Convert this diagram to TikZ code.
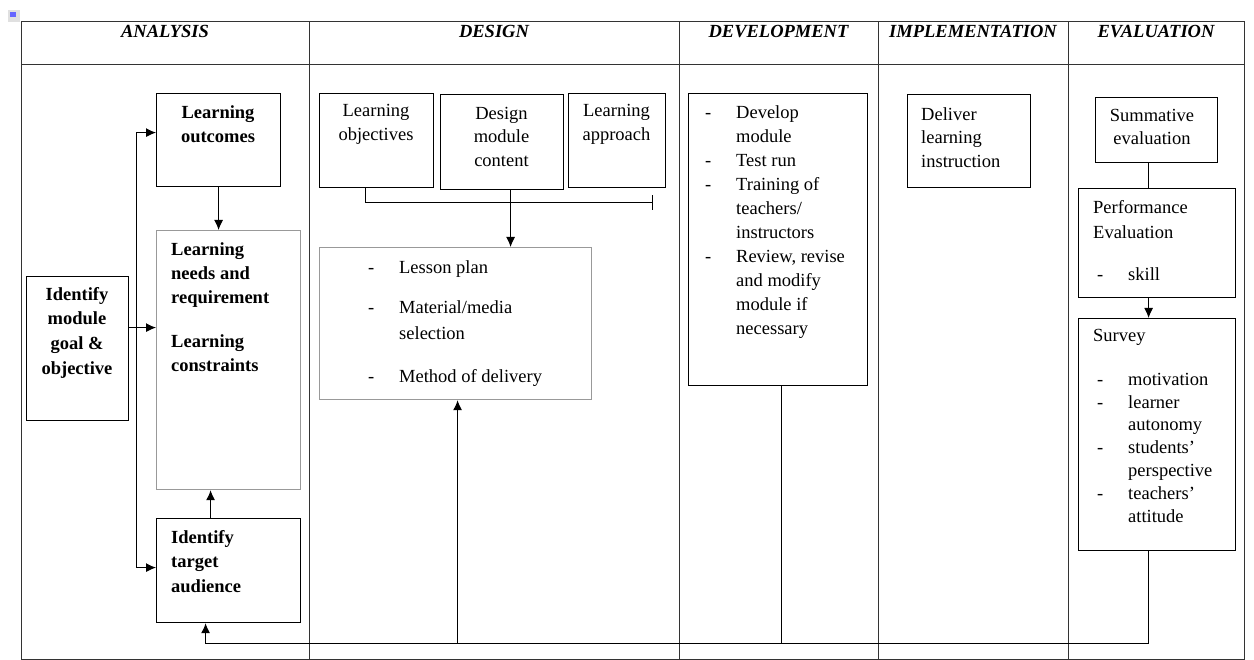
\documentclass[tikz,border=0pt]{standalone}
\usepackage{fontspec}
\setmainfont{Liberation Serif}
\usepackage{tikz}
\usetikzlibrary{arrows.meta}
\tikzset{>={Latex[length=10pt,width=9pt]}}
\tikzset{
  bx/.style={draw=black, line width=1.2pt, anchor=north west, inner sep=0pt},
  gbx/.style={draw=black!40, line width=1.2pt, anchor=north west, inner sep=0pt},
  txt/.style={inner sep=0pt, align=left, anchor=north west, font=\fontsize{18.5}{24}\selectfont, execute at begin node=\rule{0pt}{13pt}},
  ctxt/.style={txt, align=center, anchor=north},
  hd/.style={inner sep=0pt, anchor=base, font=\fontsize{18.5}{24}\selectfont\bfseries\itshape},
  ln/.style={line width=1pt}
}
\newcommand{\dashitem}[2][0pt]{\hspace*{#1}\makebox[31pt][l]{-}#2}
\newcommand{\dashcont}[2][0pt]{\hspace*{#1}\hspace*{31pt}#2}

\begin{document}
\begin{tikzpicture}[x=1pt, y=-1pt]
  \useasboundingbox (0,0) rectangle (1254,660);

  % icon
  \fill[black!12] (8,10) rectangle (20,22);
  \fill[blue!60] (10,12) rectangle (16,17);

  % table
  \draw[black!80, line width=1pt] (21,22) rectangle (1244,659);
  \draw[black!80, line width=1pt] (21,65) -- (1244,65);
  \foreach \x in {309, 679, 878, 1068}{
    \draw[black!80, line width=1pt] (\x,22) -- (\x,659);
  }

  \foreach \cx/\nm/\t in {165/hana/ANALYSIS, 494/hdes/DESIGN, 778.5/hdev/DEVELOPMENT, 973/himp/IMPLEMENTATION, 1156/heva/EVALUATION}{
    \node[hd] (\nm) at (\cx,37.5) {\t};
  }

  % Analysis
  \node[bx, minimum width=124, minimum height=93] (outc) at (156,93) {};
  \node[ctxt, font=\fontsize{18.5}{24}\selectfont\bfseries] (outct) at (218,105) {Learning\\outcomes};

  \node[gbx, minimum width=144, minimum height=259] (needs) at (156,230) {};
  \node[txt, font=\fontsize{18.5}{24}\selectfont\bfseries] (needst) at (171,242) {Learning\\needs and\\requirement\\[20pt]Learning\\constraints};

  \node[bx, minimum width=102, minimum height=144] (goal) at (26,276) {};
  \node[ctxt, font=\fontsize{18.5}{24.7}\selectfont\bfseries] (goalt) at (77,287) {Identify\\module\\goal \&\\objective};

  \node[bx, minimum width=144, minimum height=104] (aud) at (156,518) {};
  \node[txt, font=\fontsize{18.5}{24.5}\selectfont\bfseries] (audt) at (171,530) {Identify\\target\\audience};

  \coordinate (fork) at (136,327);
  \draw[ln, ->] ([yshift=21pt]goal.east) -- ([yshift=21pt]goal.east -| needs.west);
  \draw[ln, ->] (fork) |- ([yshift=7.5pt]outc.west);
  \draw[ln, ->] (fork) |- ([yshift=3pt]aud.west);
  \draw[ln, ->] (outc.south) -- (outc.south |- needs.north);
  \coordinate (audup) at ([xshift=-18pt]aud.north);
  \draw[ln, ->] (audup) -- (audup |- needs.south);

  % Design
  \node[bx, minimum width=114, minimum height=94] (lobj) at (319,93) {};
  \node[ctxt] (lobjt) at (376,104) {Learning\\objectives};
  \node[bx, minimum width=123, minimum height=95] (dmc) at (440,94) {};
  \node[ctxt, font=\fontsize{18.5}{23.5}\selectfont] (dmct) at (501.5,107) {Design\\module\\content};
  \node[bx, minimum width=97, minimum height=94] (lapp) at (568,93) {};
  \node[ctxt] (lappt) at (616.5,104) {Learning\\approach};

  \coordinate (brk) at (653,203);
  \coordinate (lobjd) at ([xshift=-11pt]lobj.south);
  \draw[ln, -{Bar[width=15pt]}] (lobjd) |- (brk);

  \node[gbx, minimum width=272, minimum height=152] (plan) at (319,247) {};
  \node[txt] (plant) at (368,260) {\dashitem{Lesson plan}\\[16pt]\dashitem{Material/media}\\[2pt]\dashcont{selection}\\[19pt]\dashitem{Method of delivery}};
  \coordinate (dmcd) at ([xshift=8.5pt]dmc.south);
  \draw[ln, ->] (dmcd) -- (dmcd |- plan.north);

  % Development
  \node[bx, minimum width=179, minimum height=292] (dev) at (688,93) {};
  \node[txt, font=\fontsize{18.5}{24.1}\selectfont] (devt) at (705,105) {\dashitem{Develop}\\\dashcont{module}\\\dashitem{Test run}\\\dashitem{Training of}\\\dashcont{teachers/}\\\dashcont{instructors}\\\dashitem{Review, revise}\\\dashcont{and modify}\\\dashcont{module if}\\\dashcont{necessary}};

  % Implementation
  \node[bx, minimum width=123, minimum height=93] (deli) at (907,94) {};
  \node[txt, font=\fontsize{18.5}{23.5}\selectfont] (delit) at (921,107) {Deliver\\learning\\instruction};

  % Evaluation
  \node[bx, minimum width=122, minimum height=65] (summ) at (1095,97) {};
  \node[ctxt, font=\fontsize{18.5}{23}\selectfont] (summt) at (1152,109) {Summative\\evaluation};
  \node[bx, minimum width=157, minimum height=109] (perf) at (1078,188) {};
  \node[txt, font=\fontsize{18.5}{25}\selectfont] (perft) at (1093,200) {Performance\\Evaluation\\[17pt]\dashitem[4pt]{skill}};
  \node[bx, minimum width=157, minimum height=232] (surv) at (1078,318) {};
  \node[txt, font=\fontsize{18.5}{22.8}\selectfont] (survt) at (1093,329) {Survey\\[21pt]\dashitem[4pt]{motivation}\\\dashitem[4pt]{learner}\\\dashcont[4pt]{autonomy}\\\dashitem[4pt]{students’}\\\dashcont[4pt]{perspective}\\\dashitem[4pt]{teachers’}\\\dashcont[4pt]{attitude}};

  \coordinate (summd) at ([xshift=-8pt]summ.south);
  \draw[ln] (summd) -- (summd |- perf.north);
  \coordinate (perfd) at ([xshift=-8.5pt]perf.south);
  \draw[ln, ->] (perfd) -- (perfd |- surv.north);

  % Feedback loop
  \coordinate (base) at (0,643);
  \coordinate (survd) at ([xshift=-8.5pt]surv.south);
  \coordinate (audin) at ([xshift=-23pt]aud.south);
  \draw[ln, ->] (survd) |- (audin |- base) -- (audin);
  \coordinate (planin) at ([xshift=2pt]plan.south);
  \draw[ln, ->] (planin |- base) -- (planin);
  \coordinate (devd) at ([xshift=3.5pt]dev.south);
  \draw[ln] (devd) -- (devd |- base);

\end{tikzpicture}
\end{document}
